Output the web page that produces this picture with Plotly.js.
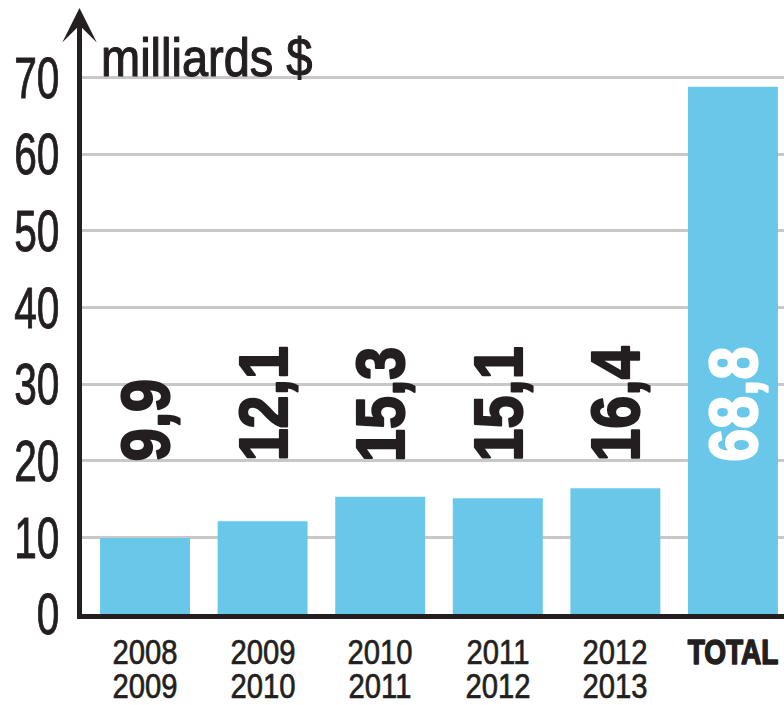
<!DOCTYPE html>
<html>
<head>
<meta charset="utf-8">
<script src="https://cdn.plot.ly/plotly-3.0.1.min.js"></script>
<style>html,body{margin:0;padding:0;background:#fff;}#chart{width:784px;height:705px;}</style>
</head>
<body>
<div id="chart"></div>
<script>
// ---- data ----
const categories = ['2008-2009', '2009-2010', '2010-2011', '2011-2012', '2012-2013', 'TOTAL'];
const labelsTop = ['2008', '2009', '2010', '2011', '2012', 'TOTAL'];
const labelsBottom = ['2009', '2010', '2011', '2012', '2013', ''];
const values = [9.9, 12.1, 15.3, 15.1, 16.4, 68.8];
const valueLabels = ['9,9', '12,1', '15,3', '15,1', '16,4', '68,8'];
const yTicks = [0, 10, 20, 30, 40, 50, 60, 70];
const unitLabel = 'milliards $';

// ---- style ----
const FONT = '"Liberation Sans", Arial, sans-serif';
const INK = '#231f20';
const BAR = '#69c7ea';

const trace = {
  type: 'bar',
  x: categories,
  y: values,
  marker: {color: BAR, line: {width: 0}},
  hoverinfo: 'skip'
};

const annotations = [];
const squeezeInfo = []; // [horizontal scale, anchor kept, extra stroke width, colour]
categories.forEach((c, i) => {
  const isTotal = labelsTop[i] === 'TOTAL';
  const col = isTotal ? '#ffffff' : INK;
  annotations.push({
    x: c, y: 20, xref: 'x', yref: 'y', yshift: -3,
    text: '<b>' + valueLabels[i] + '</b>',
    textangle: -90, showarrow: false,
    xanchor: 'center', yanchor: 'bottom',
    font: {family: FONT, size: 68, color: col}
  });
  squeezeInfo.push([0.87, 'start', 2.2, col]);
  const top = isTotal ? '<b>' + labelsTop[i] + '</b>' : labelsTop[i];
  annotations.push({
    x: c, y: 0, xref: 'x', yref: 'paper',
    text: top, showarrow: false, xanchor: 'center', yanchor: 'middle',
    height: 32, width: 100, borderpad: 0, valign: 'middle',
    yshift: -37, font: {family: FONT, size: 35, color: INK}
  });
  squeezeInfo.push([isTotal ? 0.8 : 0.835, 'center', isTotal ? 1.6 : 0.7, INK]);
  if (labelsBottom[i]) {
    annotations.push({
      x: c, y: 0, xref: 'x', yref: 'paper',
      text: labelsBottom[i], showarrow: false, xanchor: 'center', yanchor: 'middle',
      height: 32, width: 100, borderpad: 0, valign: 'middle',
      yshift: -71, font: {family: FONT, size: 35, color: INK}
    });
    squeezeInfo.push([0.835, 'center', 0.7, INK]);
  }
});
// unit label
annotations.push({
  x: 0, y: 70, xref: 'paper', yref: 'y', xshift: 17, yshift: -12,
  text: unitLabel, showarrow: false, xanchor: 'left', yanchor: 'bottom',
  font: {family: FONT, size: 54, color: INK}
});
squeezeInfo.push([0.87, 'start', 1.2, INK]);
// y axis arrow
annotations.push({
  x: 0, y: 1.0202, xref: 'paper', yref: 'paper', xshift: -2.5,
  ax: 0, ay: 606, axref: 'pixel', ayref: 'pixel',
  text: '', showarrow: true, arrowhead: 3, arrowsize: 1.15, arrowwidth: 5,
  arrowcolor: INK, standoff: 0
});
squeezeInfo.push(null);

const layout = {
  width: 784, height: 705,
  margin: {l: 82, r: 0, t: 20, b: 91, pad: 0},
  paper_bgcolor: '#ffffff', plot_bgcolor: '#ffffff',
  showlegend: false,
  bargap: 0.235,
  xaxis: {
    type: 'category', range: [-0.536, 5.434], fixedrange: true,
    showticklabels: false, ticks: '', showgrid: false, zeroline: false,
    showline: true, linewidth: 5, linecolor: INK
  },
  yaxis: {
    range: [0, 77.5], tickvals: yTicks, ticktext: yTicks.map(String),
    ticks: '', ticklabelstandoff: 6,
    showgrid: true, gridcolor: '#c8c8c8', gridwidth: 3,
    zeroline: false, showline: true, linewidth: 5, linecolor: INK,
    tickfont: {family: FONT, size: 58, color: INK}, fixedrange: true
  },
  annotations: annotations
};

// condense text horizontally (the reference uses a condensed typeface)
function squeeze(t, sx, keep, sw, col) {
  const len = t.getComputedTextLength();
  if (!len) return;
  const before = t.getBBox();
  t.setAttribute('textLength', (len * sx).toFixed(2));
  t.setAttribute('lengthAdjust', 'spacingAndGlyphs');
  const after = t.getBBox();
  let dx = 0;
  if (keep === 'start') dx = before.x - after.x;
  else if (keep === 'end') dx = (before.x + before.width) - (after.x + after.width);
  if (Math.abs(dx) > 0.01) {
    const tr = t.getAttribute('transform') || '';
    t.setAttribute('transform', (tr + ' translate(' + dx.toFixed(2) + ',0)').trim());
  }
  if (sw) {
    t.style.stroke = col;
    t.style.strokeWidth = sw + 'px';
    t.style.strokeLinejoin = 'round';
  }
}

Plotly.newPlot('chart', [trace], layout, {displayModeBar: false, staticPlot: true}).then(gd => {
  gd.querySelectorAll('.ytick text').forEach(t => squeeze(t, 0.70, 'end', 1.0, INK));
  gd.querySelectorAll('g.annotation').forEach(g => {
    const idx = +g.getAttribute('data-index');
    const info = squeezeInfo[idx];
    const t = g.querySelector('text.annotation-text');
    if (info && t) squeeze(t, info[0], info[1], info[2], info[3]);
  });
});
</script>
</body>
</html>
